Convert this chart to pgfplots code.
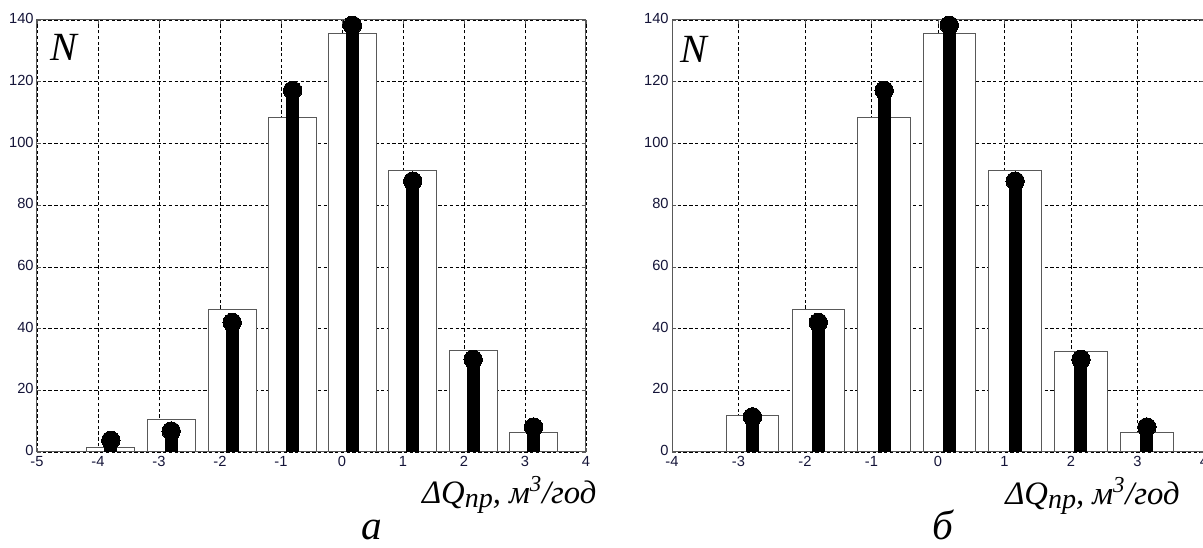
\documentclass[border=0pt]{standalone}
\usepackage{fontspec}
\setmainfont{Liberation Serif}
\newfontfamily\tickfont{Liberation Sans}
\usepackage{pgfplots}
\pgfplotsset{compat=1.18}
\definecolor{tickcol}{rgb}{0.08,0.08,0.22}

\pgfplotsset{
  histstyle/.style={
    anchor=south west,
    height=324pt, scale only axis,
    ymin=0, ymax=140,
    ytick={0,20,...,140},
    grid=major,
    major grid style={black, line width=0.5pt, dash pattern=on 2.5pt off 1.8pt},
    axis line style={black!65, line width=0.75pt},
    tick style={black!65, line width=0.5pt},
    major tick length=3pt, tick align=inside,
    tick label style={font=\tickfont\fontsize{11}{12}\selectfont, text=tickcol},
    /pgf/number format/assume math mode=true,
    xticklabel style={yshift=0.5pt},
    yticklabel style={xshift=1pt, yshift=1pt},
    clip=false,
  },
  barstyle/.style={ybar, bar width=0.79, bar shift=0pt, fill=white, draw=black!65, line width=0.75pt},
  stemstyle/.style={ycomb, black, line width=9.75pt, mark=*, mark size=6.9pt, mark options={line width=0pt, fill=black}},
}

\begin{document}
\begin{tikzpicture}
\useasboundingbox (0,0) rectangle (902.25pt,411pt);

% ---------- a ----------
\begin{axis}[histstyle,
  at={(27.75pt,72pt)}, width=411.75pt,
  xmin=-5, xmax=4, xtick={-5,...,4}]
\addplot[barstyle] coordinates {
  (-3.79,1.3) (-2.80,10.4) (-1.80,46.2) (-0.81,108.3) (0.17,135.5) (1.16,91.3) (2.15,33) (3.14,6.2)};
\addplot[stemstyle] coordinates {
  (-3.79,3.8) (-2.80,6.8) (-1.80,42) (-0.81,117.2) (0.17,138.3) (1.16,87.8) (2.15,30) (3.14,8.1)};
\node[anchor=north west, inner sep=0pt, font=\fontsize{30}{30}\selectfont\itshape] at (rel axis cs:0.024,0.968) {N};
\end{axis}

% ---------- b ----------
\begin{axis}[histstyle,
  at={(504pt,72pt)}, width=399pt,
  xmin=-4, xmax=4, xtick={-4,...,4}]
\addplot[barstyle] coordinates {
  (-2.79,11.9) (-1.80,46.2) (-0.81,108.3) (0.17,135.5) (1.16,91.3) (2.15,32.7) (3.14,6.2)};
\addplot[stemstyle] coordinates {
  (-2.79,11.4) (-1.80,42) (-0.81,117.2) (0.17,138.3) (1.16,87.8) (2.15,30) (3.14,8.1)};
\node[anchor=north west, inner sep=0pt, font=\fontsize{30}{30}\selectfont\itshape] at (rel axis cs:0.016,0.963) {N};
\end{axis}

% axis titles and captions
\node[anchor=base west, inner sep=0pt, font=\fontsize{24.5}{25}\selectfont\itshape]
  at (316.3pt,33pt) {ΔQ\raisebox{-0.12em}{\fontsize{21}{21}\selectfont пр}, м\textsuperscript{3}/год};
\node[anchor=base west, inner sep=0pt, font=\fontsize{24.5}{25}\selectfont\itshape]
  at (753.75pt,32.25pt) {ΔQ\raisebox{-0.12em}{\fontsize{21}{21}\selectfont пр}, м\textsuperscript{3}/год};
\node[anchor=base, inner sep=0pt, font=\fontsize{31}{31}\selectfont\itshape] at (279pt,6pt) {а};
\node[anchor=base, inner sep=0pt, font=\fontsize{31}{31}\selectfont\itshape] at (707.25pt,6pt) {б};
\end{tikzpicture}
\end{document}
